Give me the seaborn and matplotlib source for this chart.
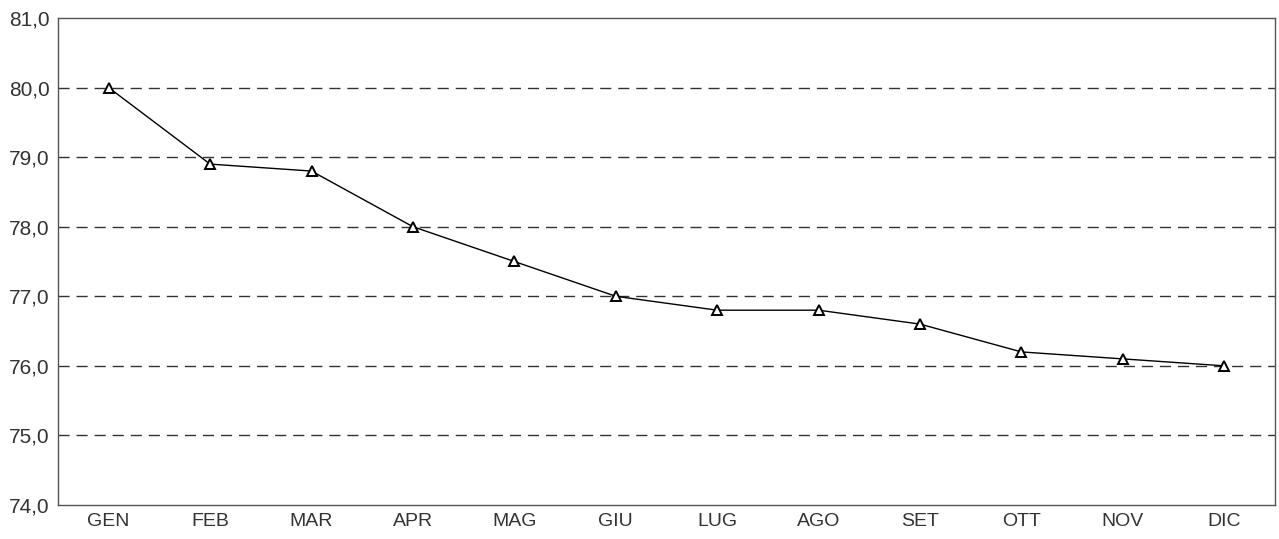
import pandas as pd
import matplotlib.pyplot as plt
import seaborn as sns
from matplotlib.ticker import FixedLocator, FuncFormatter

months = ["GEN", "FEB", "MAR", "APR", "MAG", "GIU",
          "LUG", "AGO", "SET", "OTT", "NOV", "DIC"]
values = [80.0, 78.9, 78.8, 78.0, 77.5, 77.0,
          76.8, 76.8, 76.6, 76.2, 76.1, 76.0]
y_ticks = [74, 75, 76, 77, 78, 79, 80, 81]

df = pd.DataFrame({"Mese": months, "Valore": values})
df["pos"] = range(len(months))

sns.set_style("white")
plt.rcParams["font.family"] = ["Liberation Sans", "DejaVu Sans"]

fig = plt.figure(figsize=(12.79, 5.39), dpi=100)
ax = fig.add_axes([0.0453, 0.0631, 0.9516, 0.9035])

for y in y_ticks[1:-1]:
    ax.axhline(y, color="#333333", lw=1, ls=(0, (8, 5)), zorder=1)

sns.lineplot(data=df, x="pos", y="Valore", ax=ax, color="black", lw=1,
             marker="^", markersize=6.5, markerfacecolor="white",
             markeredgecolor="black", markeredgewidth=1.4, zorder=3)

ax.set_xlim(-0.5, len(months) - 0.5)
ax.set_ylim(74, 81)
ax.set_yticks(y_ticks)
ax.yaxis.set_major_formatter(FuncFormatter(lambda v, p: f"{v:.1f}".replace(".", ",")))

ax.xaxis.set_major_locator(FixedLocator([i - 0.5 for i in range(len(months) + 1)]))
ax.xaxis.set_major_formatter(FuncFormatter(lambda v, p: ""))
ax.set_xticks(range(len(months)), minor=True)
ax.set_xticklabels(months, minor=True)
ax.tick_params(axis="x", which="major", direction="out", length=5, width=1, color="#555555")
ax.tick_params(axis="x", which="minor", length=0, pad=6, labelsize=14, labelcolor="#333333")
ax.tick_params(axis="y", direction="out", length=4, width=1, color="#555555",
               labelsize=15, labelcolor="#333333", pad=2)

for s in ax.spines.values():
    s.set_color("#555555")
    s.set_linewidth(1)

ax.set_xlabel("")
ax.set_ylabel("")

plt.savefig("out.png", dpi=100)
